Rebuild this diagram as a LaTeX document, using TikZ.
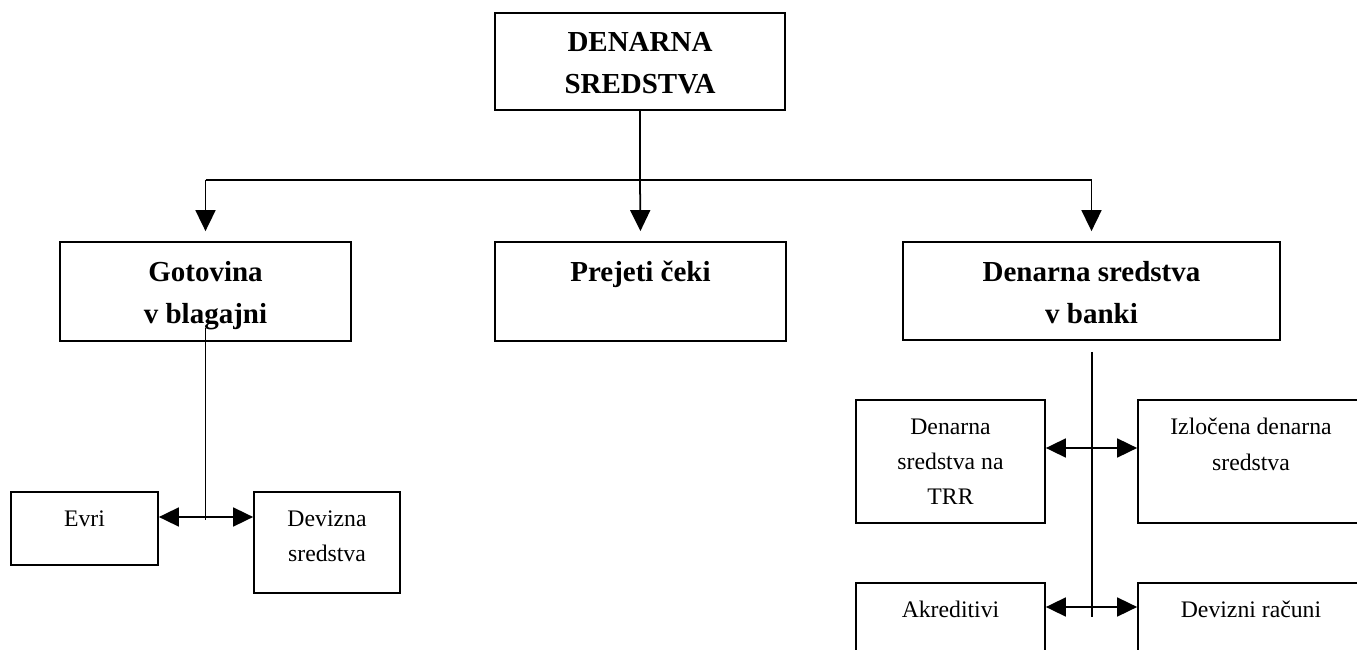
\documentclass[tikz,border=0pt]{standalone}
\usepackage{fontspec}
\setmainfont{Liberation Serif}
\usetikzlibrary{arrows.meta}

\tikzset{
  box/.style={draw, line width=1pt, inner sep=0pt},
  head/.style={label={[anchor=north, yshift=-0.40cm, inner sep=0pt, align=center,
      font=\fontsize{16.5}{24}\selectfont\bfseries]north:{#1}}},
  sub/.style={label={[anchor=north, yshift=-0.38cm, inner sep=0pt, align=center,
      font=\fontsize{13.5}{20}\selectfont]north:{#1}}},
  link/.style={line width=1pt},
  tip/.style={link, -{Triangle[length=0.42cm,width=0.4cm]}, shorten >=0.2cm},
  tips/.style={link, {Triangle[length=0.4cm,width=0.38cm]}-{Triangle[length=0.4cm,width=0.38cm]}},
}

\begin{document}
\begin{tikzpicture}
            % Page frame
            \clip (0,0) rectangle (27.14,-13);

            % Top box
            \node[box, minimum width=5.8cm, minimum height=1.94cm, head={DENARNA\\SREDSTVA}] (denarna) at (12.8,-1.23) {};

            % Second row
            \node[box, minimum width=5.82cm, minimum height=1.98cm, head={Gotovina\\v blagajni}] (gotovina) at (4.11,-5.83) {};
            \node[box, minimum width=5.82cm, minimum height=1.98cm, head={Prejeti čeki}] (ceki) at (12.81,-5.83) {};
            \node[box, minimum width=7.54cm, minimum height=1.96cm, head={Denarna sredstva\\v banki}] (banka) at (21.83,-5.82) {};

            % Cash in hand
            \node[box, minimum width=2.94cm, minimum height=1.46cm, sub={Evri}] (evri) at (1.69,-10.57) {};
            \node[box, minimum width=2.92cm, minimum height=2.02cm, sub={Devizna\\sredstva}] (devizna) at (6.54,-10.85) {};

            % Money in the bank
            \node[box, minimum width=3.78cm, minimum height=2.46cm, sub={Denarna\\sredstva na\\TRR}] (trr) at (19.01,-9.23) {};
            \node[box, minimum width=4.52cm, minimum height=2.46cm, sub={Izločena denarna\\sredstva}] (izlocena) at (25.02,-9.23) {};
            \node[box, minimum width=3.78cm, minimum height=2.46cm, sub={Akreditivi}] (akreditivi) at (19.01,-12.89) {};
            \node[box, minimum width=4.52cm, minimum height=2.46cm, sub={Devizni računi}] (racuni) at (25.02,-12.89) {};

            % Bus under the top box
            \coordinate (bus) at (12.8,-3.6);
            \draw[link] (denarna.south) -- (bus);
            \draw[link] (gotovina.north |- bus) -- (banka.north |- bus);
            \draw[tip] (gotovina.north |- bus) -- (gotovina.north);
            \draw[tip] (bus) -- (ceki.north);
            \draw[tip] (banka.north |- bus) -- (banka.north);

            % Left branch
            \coordinate (gtop) at (4.11,-6.56);
            \coordinate (gbot) at (4.11,-10.4);
            \coordinate (gmid) at (4.11,-10.34);
            \draw[link] (gtop) -- (gbot);
            \draw[tips] (evri.east |- gmid) -- (devizna.west |- gmid);

            % Right branch
            \coordinate (btop) at (21.84,-7.04);
            \coordinate (bbot) at (21.84,-12.34);
            \coordinate (bmidA) at (21.84,-8.96);
            \coordinate (bmidB) at (21.84,-12.14);
            \draw[link] (btop) -- (bbot);
            \draw[tips] (trr.east |- bmidA) -- (izlocena.west |- bmidA);
            \draw[tips] (akreditivi.east |- bmidB) -- (racuni.west |- bmidB);
\end{tikzpicture}
\end{document}
